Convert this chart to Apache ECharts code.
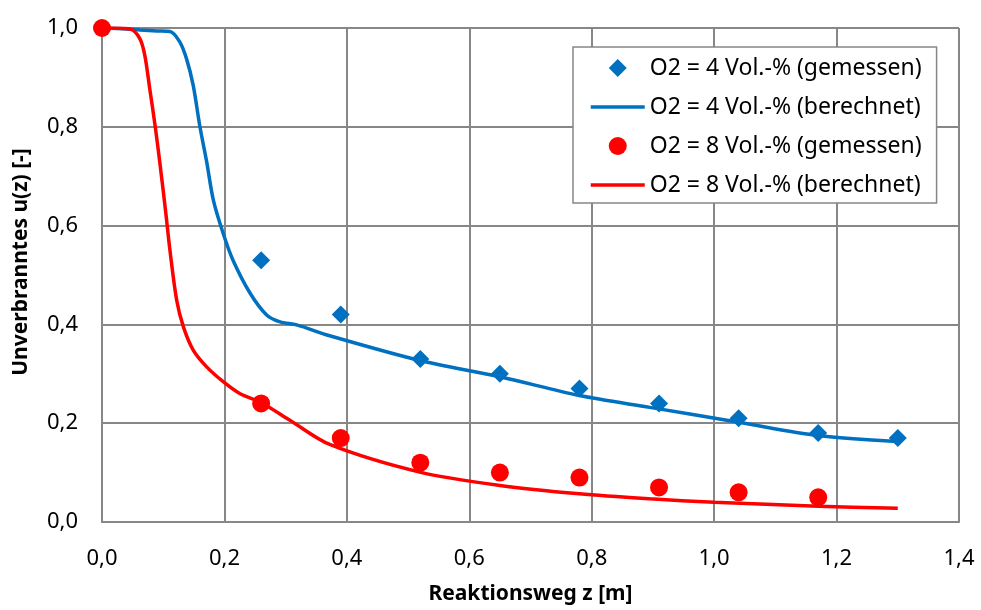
<!DOCTYPE html>
<html>
<head>
<meta charset="utf-8">
<script src="https://cdn.jsdelivr.net/npm/echarts@6/dist/echarts.min.js"></script>
<style>
  html, body { margin: 0; padding: 0; background: #fff; }
  #chart { width: 981px; height: 610px; }
</style>
</head>
<body>
<div id="chart"></div>
<script>
// Messpunkte entlang des Reaktionswegs
var zMess = [0.26, 0.39, 0.52, 0.65, 0.78, 0.91, 1.04, 1.17, 1.30];
var uMess4 = [0.53, 0.42, 0.33, 0.30, 0.27, 0.24, 0.21, 0.18, 0.17];
var zMess8 = [0.00, 0.26, 0.39, 0.52, 0.65, 0.78, 0.91, 1.04, 1.17];
var uMess8 = [1.00, 0.24, 0.17, 0.12, 0.10, 0.09, 0.07, 0.06, 0.05];

// Berechnete Verläufe
var zBer4 = [0, 0.04, 0.062, 0.09, 0.111, 0.127, 0.138, 0.149, 0.16, 0.171, 0.182, 0.198, 0.214, 0.242, 0.269, 0.291, 0.318, 0.372, 0.519, 0.65, 0.78, 0.895, 1.04, 1.17, 1.30];
var uBer4 = [1, 0.998, 0.996, 0.994, 0.993, 0.972, 0.938, 0.884, 0.80, 0.729, 0.651, 0.584, 0.530, 0.463, 0.419, 0.405, 0.399, 0.377, 0.327, 0.294, 0.256, 0.232, 0.202, 0.175, 0.163];
var zBer8 = [0, 0.046, 0.062, 0.070, 0.078, 0.087, 0.095, 0.104, 0.111, 0.122, 0.133, 0.149, 0.171, 0.198, 0.225, 0.261, 0.307, 0.372, 0.519, 0.65, 0.78, 0.895, 1.0, 1.17, 1.30];
var uBer8 = [1, 0.998, 0.978, 0.944, 0.877, 0.80, 0.722, 0.628, 0.55, 0.449, 0.395, 0.348, 0.314, 0.284, 0.260, 0.241, 0.206, 0.157, 0.101, 0.074, 0.057, 0.047, 0.040, 0.032, 0.028];

var namen = ['O2 = 4 Vol.-% (gemessen)', 'O2 = 4 Vol.-% (berechnet)', 'O2 = 8 Vol.-% (gemessen)', 'O2 = 8 Vol.-% (berechnet)'];

function paare(xs, ys) {
  return xs.map(function (x, i) { return [x, ys[i]]; });
}
function komma(v) { return v.toFixed(1).replace('.', ','); }

var FONT = 'Noto Sans';
var GRAU = '#878787';
var BLAU = '#0070C0';
var ROT = '#FF0000';

// Legendensymbole: Raute bleibt quadratisch, Linien ohne Punkt
var RAUTE = 'path://M27,0 L36,9 L27,18 L18,9 Z';

var chart = echarts.init(document.getElementById('chart'), null, { renderer: 'canvas' });
chart.setOption({
  animation: false,
  backgroundColor: '#fff',
  grid: { left: 102, right: 22, top: 28, bottom: 88, containLabel: false },
  legend: {
    left: 573, top: 47, orient: 'vertical',
    padding: [9, 15, 6, 16],
    itemWidth: 54, itemHeight: 18, itemGap: 15,
    symbolKeepAspect: true,
    backgroundColor: '#fff', borderColor: GRAU, borderWidth: 1.5, borderRadius: 0,
    textStyle: { fontFamily: FONT, fontSize: 23, color: '#000', lineHeight: 24 },
    data: [
      { name: namen[0], icon: RAUTE },
      { name: namen[1], itemStyle: { opacity: 0 }, lineStyle: { width: 3.5 } },
      { name: namen[2], icon: 'circle' },
      { name: namen[3], itemStyle: { opacity: 0 }, lineStyle: { width: 3.5 } }
    ]
  },
  xAxis: {
    type: 'value', min: 0, max: 1.4, interval: 0.2,
    name: 'Reaktionsweg z [m]', nameLocation: 'middle', nameGap: 62,
    nameTextStyle: { fontFamily: FONT, fontSize: 21, fontWeight: 'bold', color: '#000' },
    axisLine: { show: true, lineStyle: { color: GRAU, width: 2 } },
    axisTick: { show: false },
    axisLabel: { margin: 26, fontFamily: FONT, fontSize: 22, color: '#000', formatter: komma },
    splitLine: { show: true, lineStyle: { color: GRAU, width: 2 } }
  },
  yAxis: {
    type: 'value', min: 0, max: 1.0, interval: 0.2,
    name: 'Unverbranntes u(z) [-]', nameLocation: 'middle', nameGap: 70,
    nameTextStyle: { fontFamily: FONT, fontSize: 21, fontWeight: 'bold', color: '#000', padding: [0, 0, 0, 26] },
    axisLine: { show: true, lineStyle: { color: GRAU, width: 2 } },
    axisTick: { show: false },
    axisLabel: { margin: 24, fontFamily: FONT, fontSize: 22, color: '#000', formatter: komma },
    splitLine: { show: true, lineStyle: { color: GRAU, width: 2 } }
  },
  series: [
    {
      name: namen[0], type: 'scatter', symbol: 'diamond', symbolSize: 18, z: 5,
      itemStyle: { color: BLAU, opacity: 1 }, data: paare(zMess, uMess4)
    },
    {
      name: namen[1], type: 'line', showSymbol: false, symbol: 'none', smooth: 0.3, z: 3,
      lineStyle: { color: BLAU, width: 3.5 }, itemStyle: { color: BLAU },
      data: paare(zBer4, uBer4)
    },
    {
      name: namen[2], type: 'scatter', symbol: 'circle', symbolSize: 18, z: 6,
      itemStyle: { color: ROT, opacity: 1 }, data: paare(zMess8, uMess8)
    },
    {
      name: namen[3], type: 'line', showSymbol: false, symbol: 'none', smooth: 0.3, z: 4,
      lineStyle: { color: ROT, width: 3.5 }, itemStyle: { color: ROT },
      data: paare(zBer8, uBer8)
    }
  ]
});
</script>
</body>
</html>
